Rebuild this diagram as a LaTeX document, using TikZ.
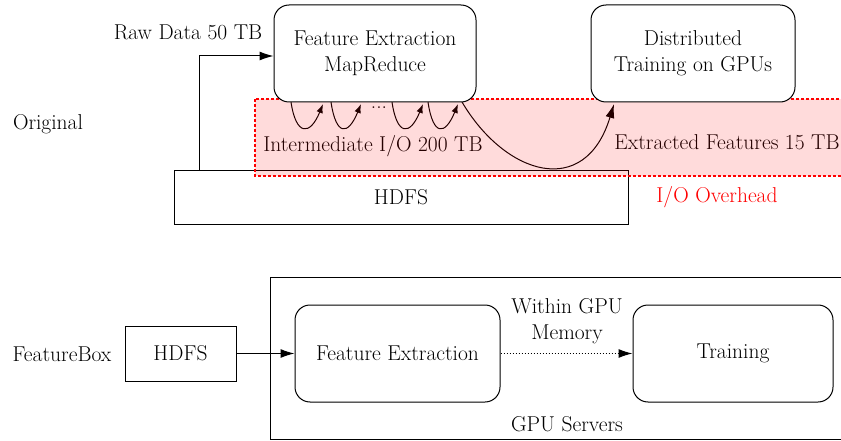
\documentclass[tikz,border=0pt]{standalone}
\usepackage{fontspec}
\usetikzlibrary{arrows.meta,calc}
\begin{document}
\begin{tikzpicture}[x=1pt,y=-1pt,line width=1pt,font=\fontsize{21.5}{26}\selectfont,
  rbox/.style={draw,rounded corners=15pt,fill=white,align=center,inner sep=0pt},
  sbox/.style={draw,fill=white,inner sep=0pt},
  arr/.style={-{Latex[length=14pt,width=9pt]}},
  sarr/.style={-{Latex[length=9pt,width=6.5pt]}},
  lbl/.style={inner sep=0pt}]
\useasboundingbox (0,0) rectangle (841,441);
\begin{scope}
\clip (0,0) rectangle (841,441);
% top row
\node[sbox,minimum width=454pt,minimum height=53pt] (hdfs) at (401,197.5) {HDFS};
\node[lbl] (orig) at (48,124) {Original};
\node[lbl] (raw) at (188,32) {Raw Data 50 TB};
\node[lbl] (inter) at (373,146) {Intermediate I/O 200 TB};
\node[lbl] (extr) at (727,142) {Extracted Features 15 TB};
\node[lbl,text=red] (ioo) at (717,197) {I/O Overhead};
\node[lbl] (dots) at (379,108) {...};
\coordinate (l1a) at (291,102); \coordinate (l1b) at (323,104);
\coordinate (l2a) at (331,102); \coordinate (l2b) at (361,104);
\coordinate (l3a) at (392,102); \coordinate (l3b) at (423,104);
\coordinate (l4a) at (428,102); \coordinate (l4b) at (458,104);
\foreach \i in {1,2,3,4}{
  \draw[sarr] (l\i a) .. controls ($(l\i a)+(5,34)$) and ($(l\i b)+(-13,32)$) .. (l\i b);
}
\coordinate (cs) at (462,102); \coordinate (ce) at (614,104);
\draw[arr] (cs) .. controls (505,175) and (585,200) .. (ce);
\coordinate (up) at (199,171); \coordinate (corner) at (199,56);
\fill[red,opacity=0.14] (255,99) rectangle (850,176);
\draw[red,dashed,line width=1.2pt,dash pattern=on 3pt off 2pt] (255,99) rectangle (850,176);
\node[rbox,minimum width=202pt,minimum height=97pt] (fe) at (375,53.5) {Feature Extraction\\MapReduce};
\node[rbox,minimum width=204pt,minimum height=97pt] (dt) at (693,53.5) {Distributed\\Training on GPUs};
\draw[arr] (up) -- (corner) -- (corner -| fe.west);
% bottom row
\node[lbl] (fb) at (62,354) {FeatureBox};
\node[sbox,minimum width=111pt,minimum height=55pt] (hdfs2) at (180.5,353.5) {HDFS};
\draw (270,277) rectangle (850,439);
\node[lbl] (gpus) at (567,424) {GPU Servers};
\node[rbox,minimum width=205pt,minimum height=97pt] (fe2) at (397.5,353.5) {Feature Extraction};
\node[rbox,minimum width=200pt,minimum height=97pt] (tr) at (733,353.5) {Training};
\node[lbl,align=center] (mem) at (567,321) {Within GPU\\Memory};
\draw[arr] (hdfs2) -- (fe2);
\draw[arr,dotted] (fe2) -- (tr);
\end{scope}
\end{tikzpicture}
\end{document}
